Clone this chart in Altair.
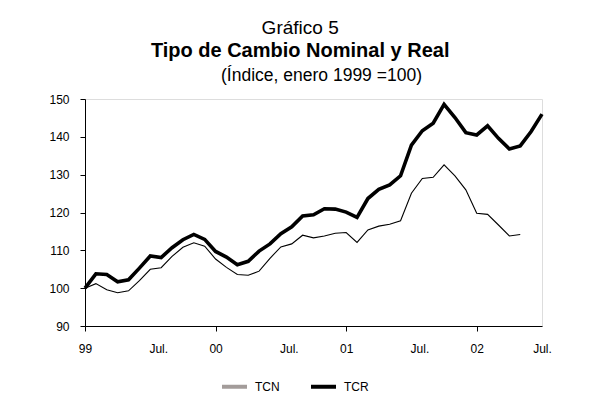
import altair as alt
import pandas as pd

# Month index: 0 = enero 1999 ... 42 = julio 2002
tcr = [100.0, 103.8, 103.6, 101.7, 102.2, 105.3, 108.5, 108.1, 110.7, 112.8,
       114.2, 112.9, 109.7, 108.2, 106.2, 107.1, 109.8, 111.7, 114.4, 116.2,
       119.1, 119.4, 121.0, 120.9, 120.1, 118.7, 123.7, 126.1, 127.3, 129.7,
       137.8, 141.6, 143.6, 148.6, 145.1, 141.1, 140.5, 142.9, 139.6, 136.8,
       137.6, 141.4, 146.0]
tcn = [100.0, 101.2, 99.6, 98.8, 99.3, 102.0, 105.0, 105.4, 108.4, 110.8,
       112.0, 111.1, 107.7, 105.5, 103.6, 103.4, 104.5, 107.9, 110.9, 111.7,
       114.0, 113.3, 113.8, 114.5, 114.7, 112.1, 115.4, 116.4, 116.9, 117.8,
       125.1, 129.0, 129.3, 132.6, 129.7, 126.0, 119.8, 119.5, 116.7, 113.8,
       114.2]
series = ["TCN", "TCR"]
x_label_pos = [0, 6, 12, 18, 24, 30, 36, 42]
x_labels = ["99", "Jul.", "00", "Jul.", "01", "Jul.", "02", "Jul."]
y_ticks = [90, 100, 110, 120, 130, 140, 150]

rows = []
for i, v in enumerate(tcn):
    rows.append({"serie": "TCN", "mes": i, "valor": v})
for i, v in enumerate(tcr):
    rows.append({"serie": "TCR", "mes": i, "valor": v})
df = pd.DataFrame(rows)

label_map = "{" + ",".join(f"'{p}':'{l}'" for p, l in zip(x_label_pos, x_labels)) + "}"
label_expr = f"{label_map}[toString(datum.value)]"

FONT = "Liberation Sans"

x_enc = alt.X(
    "mes:Q",
    scale=alt.Scale(domain=[0, 42], nice=False, zero=False),
    axis=alt.Axis(
        values=x_label_pos, labelExpr=label_expr, title=None, grid=False,
        tickSize=5, labelPadding=12, labelFontSize=12, labelFont=FONT,
        labelColor="black", domainColor="black", labelFlush=False,
        labelOffset={"condition": {"test": "datum.value % 12 === 6 && datum.value < 40",
                                   "value": 8}, "value": 0},
        tickColor={"condition": {"test": "datum.value % 12 === 0", "value": "black"},
                   "value": "transparent"},
    ),
)
y_enc = alt.Y(
    "valor:Q",
    scale=alt.Scale(domain=[90, 150], nice=False, zero=False),
    axis=alt.Axis(
        values=y_ticks, title=None, grid=False, tickSize=5, labelPadding=11,
        labelFontSize=12, labelFont=FONT, labelColor="black",
        domainColor="black", tickColor="black", labelOverlap=False,
    ),
)

# TCR: thick black line; it carries the key (colours as in the reference key)
tcr_line = alt.Chart(df).transform_filter(alt.datum.serie == "TCR").mark_line(
    strokeWidth=3.6
).encode(
    x=x_enc,
    y=y_enc,
    stroke=alt.Stroke(
        "serie:N",
        scale=alt.Scale(domain=series, range=["#a39c9a", "#000000"]),
        legend=alt.Legend(
            title=None, orient="none", direction="horizontal",
            legendX=135, legendY=273,
            symbolType="stroke", symbolSize=625,
            symbolStrokeWidth=4, symbolOpacity=1, labelFontSize=12,
            labelFont=FONT, labelColor="black", labelOffset=6,
            columnPadding=23, padding=0,
        ),
    ),
)

# TCN: thin black line
tcn_line = alt.Chart(df).transform_filter(alt.datum.serie == "TCN").mark_line(
    color="black", strokeWidth=1.1
).encode(x=x_enc, y=y_enc)

inner = alt.layer(tcn_line, tcr_line).properties(
    width=457,
    height=227,
    title=alt.TitleParams(
        "(Índice, enero 1999 =100)", fontSize=17.5, fontWeight="normal",
        font=FONT, color="black", anchor="middle", offset=9, dx=8,
    ),
)

chart = alt.vconcat(
    inner,
    title=alt.TitleParams(
        "Gráfico 5", subtitle="Tipo de Cambio Nominal y Real",
        fontSize=19, fontWeight="normal", font=FONT, color="black",
        subtitleFontSize=20, subtitleFontWeight="bold", subtitleFont=FONT,
        subtitleColor="black", subtitlePadding=3, anchor="middle", offset=5,
    ),
    padding={"left": 40, "top": 11, "right": 5, "bottom": 45},
).configure_view(stroke="#404040", strokeWidth=1).configure(background="white")

chart.save("out.html", embed_options={"renderer": "svg", "actions": False})
